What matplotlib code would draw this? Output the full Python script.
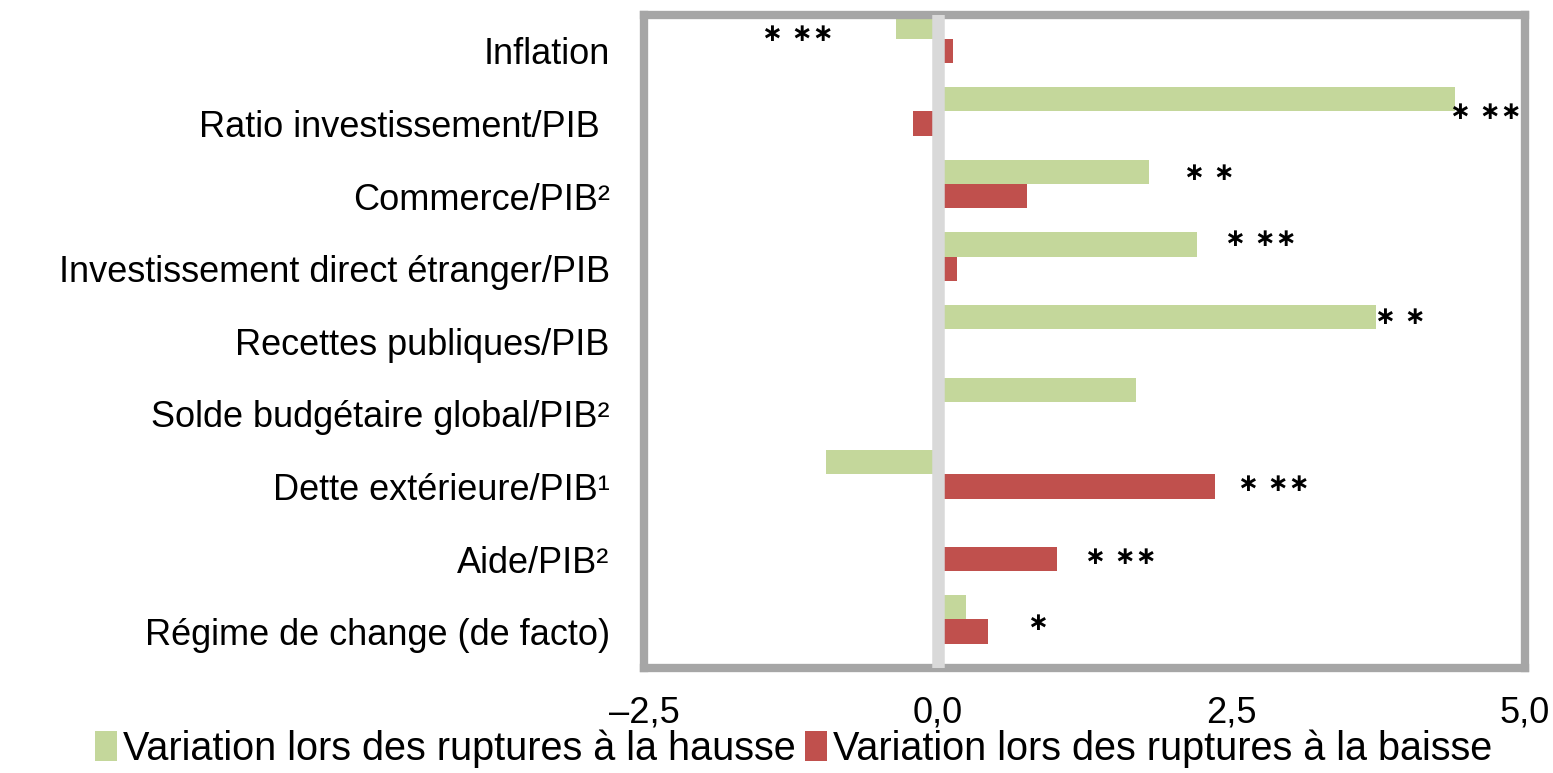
import numpy as np
import matplotlib.pyplot as plt
from matplotlib.ticker import FuncFormatter

categories = ["Inflation", "Ratio investissement/PIB ", "Commerce/PIB²",
              "Investissement direct étranger/PIB", "Recettes publiques/PIB",
              "Solde budgétaire global/PIB²", "Dette extérieure/PIB¹",
              "Aide/PIB²", "Régime de change (de facto)"]
hausse = [-0.36, 4.40, 1.80, 2.21, 3.73, 1.69, -0.95, 0.0, 0.24]
baisse = [0.13, -0.21, 0.76, 0.16, 0.0, 0.0, 2.36, 1.01, 0.43]
stars = ["∗ ∗∗", "∗ ∗∗", "∗ ∗", "∗ ∗∗", "∗ ∗", "", "∗ ∗∗", "∗ ∗∗", "∗"]
star_x = [-1.19, 4.67, 2.31, 2.75, 3.94, 0.0, 2.86, 1.56, 0.85]
star_y = [-0.23, 0.84, 1.68, 2.59, 3.66, 0.0, 5.97, 6.97, 7.88]

green = "#C4D79B"
red = "#C0504D"
plt.rcParams['font.family'] = ['Liberation Sans', 'DejaVu Sans']

fig = plt.figure(figsize=(15.53, 7.73), dpi=100)
ax = fig.add_axes([0.415, 0.136, 0.567, 0.845])

y = np.arange(len(categories))
h = 1 / 3
ax.barh(y - h, hausse, height=h, color=green, label="Variation lors des ruptures à la hausse", zorder=2)
ax.barh(y, baisse, height=h, color=red, label="Variation lors des ruptures à la baisse", zorder=2)
ax.axvline(0, color="#D9D9D9", lw=9, zorder=3)

for s, sx, sy in zip(stars, star_x, star_y):
    if s:
        ax.text(sx, sy, s, ha="center", va="center", fontsize=18, fontweight="bold",
                family="DejaVu Sans", zorder=4)

ax.set_xlim(-2.5, 5.0)
ax.set_ylim(len(categories) - 0.5, -0.5)
ax.set_xticks([-2.5, 0, 2.5, 5.0])
ax.xaxis.set_major_formatter(FuncFormatter(lambda v, p: f"{v:.1f}".replace(".", ",").replace("-", "–")))
ax.set_yticks(y)
ax.set_yticklabels(categories, fontsize=26)
ax.tick_params(axis="x", length=0, labelsize=26, pad=20)
ax.tick_params(axis="y", length=0, pad=25)
for sp in ax.spines.values():
    sp.set_color("#A6A6A6")
    sp.set_linewidth(6)

fig.legend(loc="lower left", bbox_to_anchor=(0.051, -0.014), ncol=2, frameon=False,
           fontsize=28.5, handlelength=0.55, handleheight=0.8, handletextpad=0.15,
           columnspacing=0.25, borderaxespad=0)

plt.savefig("out.png", dpi=100)
